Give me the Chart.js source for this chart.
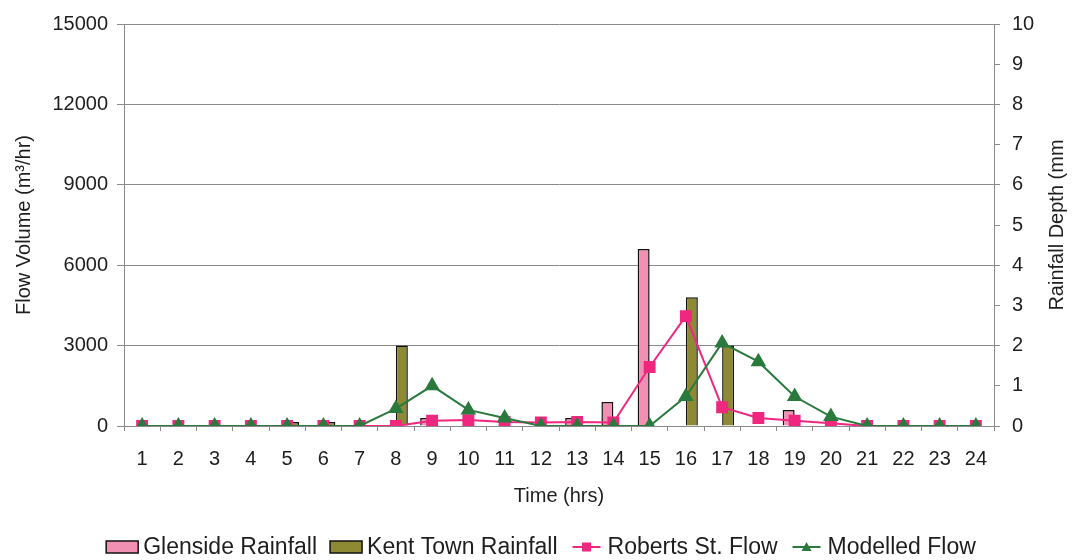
<!DOCTYPE html>
<html>
<head>
<meta charset="utf-8">
<script src="https://cdn.jsdelivr.net/npm/chart.js@4.4.1/dist/chart.umd.min.js"></script>
<style>
  html, body { margin: 0; padding: 0; background: #ffffff; }
  #wrap { width: 1074px; height: 560px; position: relative; }
</style>
</head>
<body>
<div id="wrap"><canvas id="c" width="1074" height="560"></canvas></div>
<script>
// Hourly time steps
const hours = ['1','2','3','4','5','6','7','8','9','10','11','12','13','14','15','16','17','18','19','20','21','22','23','24'];

// Rainfall depth per hour (mm) – right axis
const glensideRain = [0, 0, 0, 0, 0, 0, 0, 0, 0.2, 0, 0, 0, 0.2, 0.6, 4.4, 0, 0, 0, 0.4, 0, 0, 0, 0, 0];
const kentTownRain = [0, 0, 0, 0, 0.1, 0.1, 0, 2.0, 0, 0, 0, 0, 0, 0, 0, 3.2, 2.0, 0, 0, 0, 0, 0, 0, 0];

// Flow volume per hour (m3/hr) – left axis
const robertsFlow  = [0, 0, 0, 0, 0, 0, 0, 0, 200, 220, 150, 130, 150, 130, 2200, 4100, 700, 300, 200, 100, 0, 0, 0, 0];
const modelledFlow = [0, 0, 0, 0, 0, 0, 0, 650, 1500, 600, 300, 0, 0, 0, 0, 1100, 3100, 2400, 1100, 350, 0, 0, 0, 0];

// Axis tick settings
const flowTicks = { min: 0, max: 15000, step: 3000 };
const rainTicks = { min: 0, max: 10, step: 1 };

const FONT = '"Liberation Sans", Arial, sans-serif';
const AXIS_GREY = '#8a8a8a';
const TEXT = '#1e1e1e';

const PINK_BAR = '#f290b4';
const OLIVE_BAR = '#8e8a33';
const PINK_LINE = '#f0277f';
const GREEN_LINE = '#2b7a3d';

const RIGHT_TITLE = 'Rainfall Depth (mm';

// Right-hand axis title, reading bottom to top like the left one
const rightTitle = {
  id: 'rightTitle',
  afterDraw(chart) {
    const ctx = chart.ctx;
    const a = chart.chartArea;
    ctx.save();
    ctx.translate(1057, (a.top + a.bottom) / 2);
    ctx.rotate(-Math.PI / 2);
    ctx.font = '20px ' + FONT;
    ctx.fillStyle = TEXT;
    ctx.textAlign = 'center';
    ctx.textBaseline = 'middle';
    ctx.fillText(RIGHT_TITLE, 0, 0);
    ctx.restore();
  }
};

// Legend drawn below the x-axis title: boxes for bars, line+marker for flows
const bottomLegend = {
  id: 'bottomLegend',
  afterDraw(chart) {
    const ctx = chart.ctx;
    const items = [
      { label: 'Glenside Rainfall', kind: 'box', fill: PINK_BAR },
      { label: 'Kent Town Rainfall', kind: 'box', fill: OLIVE_BAR },
      { label: 'Roberts St. Flow', kind: 'line', color: PINK_LINE, marker: 'rect' },
      { label: 'Modelled Flow', kind: 'line', color: GREEN_LINE, marker: 'triangle' }
    ];
    ctx.save();
    ctx.font = '23px ' + FONT;
    ctx.textBaseline = 'middle';
    const iconW = 34, iconGap = 4, itemGap = 12;
    let total = 0;
    items.forEach((it, i) => {
      it.w = iconW + iconGap + ctx.measureText(it.label).width;
      total += it.w + (i ? itemGap : 0);
    });
    let x = 540.5 - total / 2;
    const y = 547;
    items.forEach(it => {
      if (it.kind === 'box') {
        ctx.fillStyle = it.fill;
        ctx.fillRect(x + 1, y - 6, iconW - 2, 12);
        ctx.strokeStyle = '#111';
        ctx.lineWidth = 1.5;
        ctx.strokeRect(x + 1, y - 6, iconW - 2, 12);
      } else {
        ctx.strokeStyle = it.color;
        ctx.lineWidth = 2;
        ctx.beginPath();
        ctx.moveTo(x + 3, y);
        ctx.lineTo(x + iconW - 3, y);
        ctx.stroke();
        ctx.fillStyle = it.color;
        const cx = x + iconW / 2;
        if (it.marker === 'rect') {
          ctx.fillRect(cx - 4.5, y - 4.5, 9, 9);
        } else {
          ctx.beginPath();
          ctx.moveTo(cx, y - 5);
          ctx.lineTo(cx + 5, y + 4);
          ctx.lineTo(cx - 5, y + 4);
          ctx.closePath();
          ctx.fill();
        }
      }
      ctx.fillStyle = TEXT;
      ctx.textAlign = 'left';
      ctx.fillText(it.label, x + iconW + iconGap, y + 1);
      x += it.w + itemGap;
    });
    ctx.restore();
  }
};

const barBorder = c => (c.raw > 0 ? 1.5 : 0);

new Chart(document.getElementById('c'), {
  data: {
    labels: hours,
    datasets: [
      {
        type: 'line', label: 'Modelled Flow', data: modelledFlow, yAxisID: 'y', order: 0,
        borderColor: GREEN_LINE, backgroundColor: GREEN_LINE, borderWidth: 2,
        pointStyle: 'triangle', pointRadius: 7, pointBackgroundColor: GREEN_LINE, pointBorderColor: GREEN_LINE,
        tension: 0
      },
      {
        type: 'line', label: 'Roberts St. Flow', data: robertsFlow, yAxisID: 'y', order: 1,
        borderColor: PINK_LINE, backgroundColor: PINK_LINE, borderWidth: 2,
        pointStyle: 'rect', pointRadius: 7, pointBackgroundColor: PINK_LINE, pointBorderColor: PINK_LINE,
        tension: 0
      },
      {
        type: 'bar', label: 'Glenside Rainfall', data: glensideRain, yAxisID: 'y2', order: 2,
        backgroundColor: PINK_BAR, borderColor: '#111', borderWidth: barBorder,
        categoryPercentage: 0.66, barPercentage: 1.0, inflateAmount: 0
      },
      {
        type: 'bar', label: 'Kent Town Rainfall', data: kentTownRain, yAxisID: 'y2', order: 3,
        backgroundColor: OLIVE_BAR, borderColor: '#111', borderWidth: barBorder,
        categoryPercentage: 0.66, barPercentage: 1.0, inflateAmount: 0
      }
    ]
  },
  options: {
    responsive: false,
    animation: false,
    devicePixelRatio: 1,
    layout: { padding: { top: 21, left: 0, right: 0, bottom: 0 } },
    plugins: { legend: { display: false }, tooltip: { enabled: false } },
    scales: {
      x: {
        type: 'category',
        offset: true,
        grid: { offset: true, drawOnChartArea: false, drawTicks: true, tickLength: 5, color: AXIS_GREY },
        border: { display: true, color: AXIS_GREY, width: 1 },
        ticks: { color: TEXT, font: { family: FONT, size: 20 }, padding: 16, maxRotation: 0, autoSkip: false },
        title: { display: true, text: 'Time (hrs)', color: TEXT, font: { family: FONT, size: 20 }, padding: { top: 0, bottom: 52 } },
        afterFit(s) { s.height = 134; }
      },
      y: {
        position: 'left',
        min: flowTicks.min, max: flowTicks.max,
        grid: { color: AXIS_GREY, tickLength: 7, drawTicks: true },
        border: { display: true, color: AXIS_GREY, width: 1 },
        ticks: { stepSize: flowTicks.step, color: TEXT, font: { family: FONT, size: 20 }, padding: 9,
                 callback: v => String(v) },
        title: { display: true, text: 'Flow Volume (m³/hr)', color: TEXT, font: { family: FONT, size: 20 }, padding: { top: 12, bottom: 0 } },
        afterFit(s) { s.width = 124; }
      },
      y2: {
        position: 'right',
        min: rainTicks.min, max: rainTicks.max,
        grid: { drawOnChartArea: false, color: AXIS_GREY, tickLength: 6, drawTicks: true },
        border: { display: true, color: AXIS_GREY, width: 1 },
        ticks: { stepSize: rainTicks.step, color: TEXT, font: { family: FONT, size: 20 }, padding: 12 },
        title: { display: false },
        afterFit(s) { s.width = 80; }
      }
    }
  },
  plugins: [bottomLegend, rightTitle]
});
</script>
</body>
</html>
